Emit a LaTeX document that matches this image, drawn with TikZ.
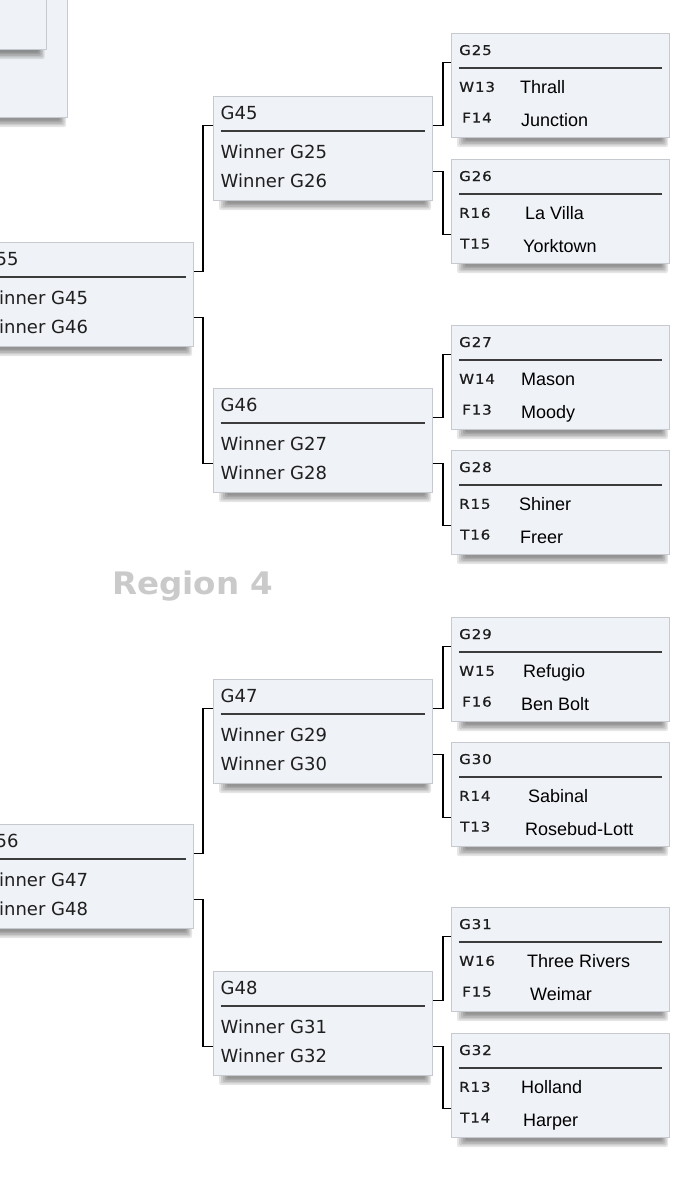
\documentclass[tikz,border=0pt]{standalone}
\usepackage{fontspec}
\setmainfont{DejaVu Sans}
\newfontfamily\wfont{DejaVu Sans}
\newfontfamily\cfont[FakeStretch=1.12,LetterSpace=6,FakeBold=0.6]{DejaVu Sans}
\newfontfamily\tfont{Liberation Sans}
\newfontfamily\regfont[FakeStretch=1.05]{DejaVu Sans}
\definecolor{boxfill}{HTML}{EFF2F6}
\definecolor{boxline}{HTML}{C6CAD0}
\definecolor{divline}{HTML}{3C3C3C}
\definecolor{codecol}{HTML}{1E1E1E}
\definecolor{regcol}{HTML}{CACACA}
\tikzset{
  box/.style={draw=boxline, fill=boxfill, line width=1.2pt, inner sep=0pt, rectangle, anchor=north west},
  divider/.style={draw=divline, line width=1.4pt},
  conn/.style={draw=black, line width=1.5pt},
  hdr/.style={anchor=base west, inner sep=0pt, font=\cfont\fontsize{13.5}{15}\selectfont, text=codecol},
  code/.style={anchor=base west, inner sep=0pt, font=\cfont\fontsize{13.5}{15}\selectfont, text=codecol},
  team/.style={anchor=base west, inner sep=0pt, font=\tfont\fontsize{18}{20}\selectfont, text=black},
  win/.style={anchor=base west, inner sep=0pt, font=\wfont\fontsize{18}{20}\selectfont, text=black!88},
  region/.style={anchor=base west, inner sep=0pt, font=\regfont\bfseries\fontsize{31}{34}\selectfont, text=regcol},
  shadowlayer/.style={fill=black, opacity=0.1, rounded corners=2pt}
}
% shadow under a box: x, top, width, height
\newcommand\shadowat[4]{%
  \foreach \k in {0,...,4}{%
    \fill[shadowlayer] ({#1+6+2*\k},{#2+#4-3}) rectangle ({#1+#3-1-1.5*\k},{#2+#4+10-1.6*\k});}}
% right-column game box: name, top, code1, team1, x1, code2, team2, x2, codex2
\newcommand\rbox[9]{%
  \shadowat{451}{#2}{218}{104}
  \node[box, minimum width=218pt, minimum height=104pt] (#1) at (451,#2) {};
  \node[hdr] (#1h) at ([shift={(8,22)}]#1.north west) {#1};
  \draw[divider] ([shift={(8,35)}]#1.north west) -- ([shift={(211,35)}]#1.north west);
  \node[code] (#1c1) at ([shift={(8,58.8)}]#1.north west) {#3};
  \node[team] (#1t1) at ([shift={(#5,60.5)}]#1.north west) {#4};
  \node[code] (#1c2) at ([shift={(#9,89.6)}]#1.north west) {#6};
  \node[team] (#1t2) at ([shift={(#8,93.5)}]#1.north west) {#7};
}
% winner box: name, x, top, line1, line2
\newcommand\wbox[5]{%
  \shadowat{#2}{#3}{219}{104}
  \node[box, minimum width=219pt, minimum height=104pt] (#1) at (#2,#3) {};
  \node[win] (#1h) at ([shift={(7.5,23.3)}]#1.north west) {#1};
  \draw[divider] ([shift={(7.5,35)}]#1.north west) -- ([shift={(211.5,35)}]#1.north west);
  \node[win] (#1r1) at ([shift={(7.5,62.5)}]#1.north west) {#4};
  \node[win] (#1r2) at ([shift={(7.5,91.8)}]#1.north west) {#5};
}
% bracket: parent, upper child, lower child, horizontal run
\newcommand\bracket[4]{%
  \draw[conn] ([shift={(0,29.5)}]#1.north east) -- ++(#4,0) |- ([shift={(0,29.5)}]#2.north west);
  \draw[conn] ([shift={(0,75.5)}]#1.north east) -- ++(#4,0) |- ([shift={(0,75.5)}]#3.north west);
}
\begin{document}
\begin{tikzpicture}[x=1pt,y=-1pt]
\useasboundingbox (0,0) rectangle (675,1200);
\clip (0,0) rectangle (675,1200);
\fill[white] (0,0) rectangle (675,1200);

% top-left partial boxes
\shadowat{-20}{-20}{87}{137}
\node[box, minimum width=87pt, minimum height=137pt] (tlouter) at (-20,-20) {};
\shadowat{-20}{-20}{65.7}{69}
\node[box, minimum width=65.7pt, minimum height=69pt] (tlinner) at (-20,-20) {};

% left column
\wbox{G55}{-26}{242}{Winner G45}{Winner G46}
\wbox{G56}{-26}{824}{Winner G47}{Winner G48}

% middle column
\wbox{G45}{213}{96}{Winner G25}{Winner G26}
\wbox{G46}{213}{388}{Winner G27}{Winner G28}
\wbox{G47}{213}{679}{Winner G29}{Winner G30}
\wbox{G48}{213}{971}{Winner G31}{Winner G32}

% right column
\rbox{G25}{33}{W13}{Thrall}{69}{F14}{Junction}{70}{11}
\rbox{G26}{159}{R16}{La Villa}{74}{T15}{Yorktown}{72}{9}
\rbox{G27}{325}{W14}{Mason}{70}{F13}{Moody}{70}{11}
\rbox{G28}{450}{R15}{Shiner}{68}{T16}{Freer}{69}{9}
\rbox{G29}{617}{W15}{Refugio}{72}{F16}{Ben Bolt}{70}{11}
\rbox{G30}{742}{R14}{Sabinal}{77}{T13}{Rosebud-Lott}{74}{9}
\rbox{G31}{907}{W16}{Three Rivers}{76}{F15}{Weimar}{79}{11}
\rbox{G32}{1033}{R13}{Holland}{70}{T14}{Harper}{72}{9}

% connectors
\bracket{G55}{G45}{G46}{9}
\bracket{G56}{G47}{G48}{9}
\bracket{G45}{G25}{G26}{10}
\bracket{G46}{G27}{G28}{10}
\bracket{G47}{G29}{G30}{10}
\bracket{G48}{G31}{G32}{10}

% region label
\node[region] (reg) at (112,594.5) {Region 4};
\end{tikzpicture}
\end{document}
